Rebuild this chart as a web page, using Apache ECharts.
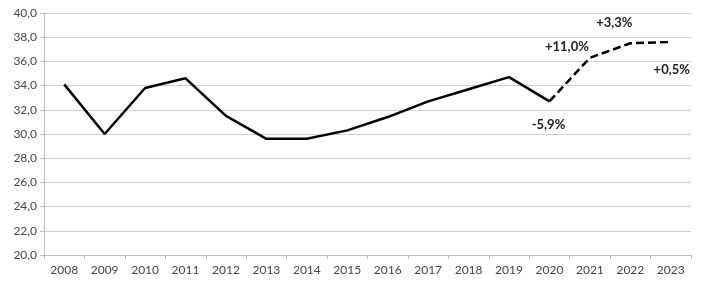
<!DOCTYPE html>
<html><head><meta charset="utf-8">
<script src="https://cdn.jsdelivr.net/npm/echarts@6/dist/echarts.min.js"></script>
<style>html,body{margin:0;padding:0;background:#fff}#c{width:711px;height:288px}</style>
</head><body><div id="c"></div>
<script>
var years = ['2008','2009','2010','2011','2012','2013','2014','2015','2016','2017','2018','2019','2020','2021','2022','2023'];
var actualValues = [34.1, 30.0, 33.8, 34.6, 31.5, 29.6, 29.6, 30.3, 31.4, 32.7, 33.7, 34.7, 32.7, null, null, null];
var forecastValues = [null, null, null, null, null, null, null, null, null, null, null, null, 32.7, 36.3, 37.5, 37.6];
var changeLabels = [null, null, null, null, null, null, null, null, null, null, null, null, '-5,9%', '+11,0%', '+3,3%', '+0,5%'];
var labelOffsets = {12: [-1, 23], 13: [-23, -11], 14: [-16, -20], 15: [1, 28]};

var forecastData = forecastValues.map(function (v, i) {
  if (v === null) return null;
  var item = { value: v };
  if (changeLabels[i]) {
    item.label = { show: true, formatter: changeLabels[i], position: 'inside', offset: labelOffsets[i] };
  }
  return item;
});

var chart = echarts.init(document.getElementById('c'), null, { renderer: 'canvas' });
chart.setOption({
  animation: false,
  grid: { left: 44, right: 20, top: 13, bottom: 33 },
  xAxis: {
    type: 'category', data: years, boundaryGap: true,
    axisLine: { lineStyle: { color: '#bdbdbd', width: 1 } },
    axisTick: { show: true, length: 4, lineStyle: { color: '#bdbdbd' } },
    axisLabel: { color: '#454545', fontFamily: 'Lato', fontSize: 12, margin: 9 }
  },
  yAxis: {
    type: 'value', min: 20, max: 40, interval: 2,
    axisLine: { show: true, lineStyle: { color: '#bdbdbd', width: 1 } },
    axisTick: { show: true, length: 4, lineStyle: { color: '#bdbdbd' } },
    splitLine: { lineStyle: { color: '#cfcfcf', width: 1 } },
    axisLabel: { color: '#454545', fontFamily: 'Lato', fontSize: 12, margin: 7,
      formatter: function (v) { return v.toFixed(1).replace('.', ','); } }
  },
  series: [
    { type: 'line', data: actualValues, showSymbol: false, symbol: 'none',
      lineStyle: { color: '#000', width: 2.5, type: 'solid' }, connectNulls: false },
    { type: 'line', data: forecastData, symbol: 'circle', symbolSize: 0, showSymbol: true,
      itemStyle: { color: '#000' },
      lineStyle: { color: '#000', width: 2.5, type: [8, 4] },
      label: { show: false, color: '#222', fontFamily: 'Lato', fontWeight: 'bold', fontSize: 13 } }
  ]
});
</script></body></html>
